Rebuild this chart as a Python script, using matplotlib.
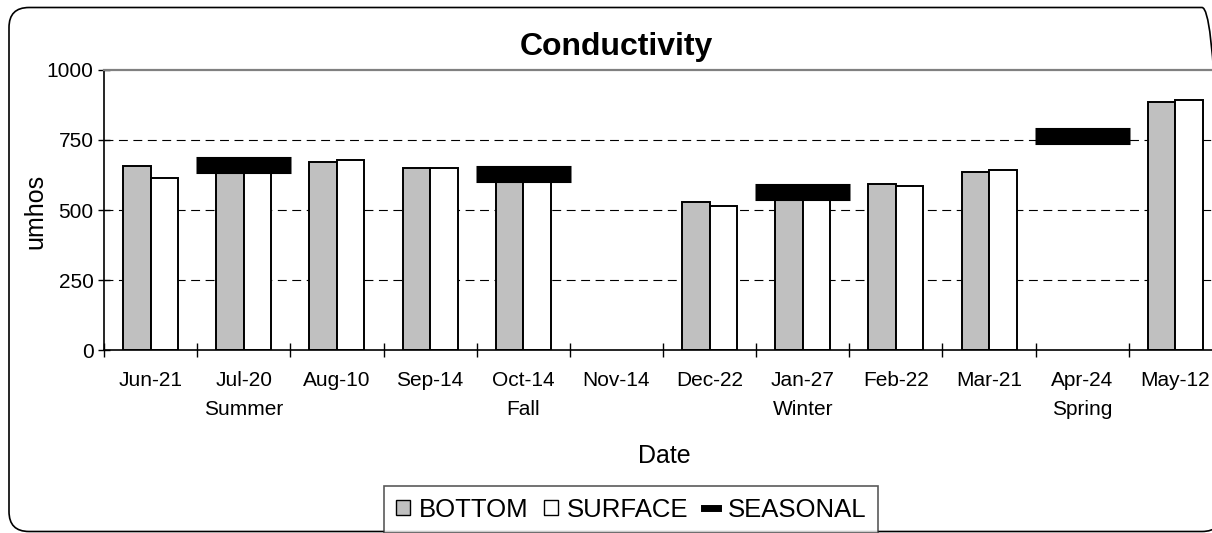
import numpy as np
import matplotlib
matplotlib.use("Agg")
import matplotlib.pyplot as plt
from matplotlib.patches import FancyBboxPatch, Patch
from matplotlib.lines import Line2D
from matplotlib.transforms import IdentityTransform

plt.rcParams["font.family"] = ["Liberation Sans", "DejaVu Sans"]

#  Sampling dates and the season each seasonal mean belongs to
dates = ["Jun-21", "Jul-20", "Aug-10", "Sep-14", "Oct-14", "Nov-14",
         "Dec-22", "Jan-27", "Feb-22", "Mar-21", "Apr-24", "May-12"]
seasons = ["", "Summer", "", "", "Fall", "", "", "Winter", "", "", "Spring", ""]

#  Conductivity, umhos (nan = no sample)
bottom = [658, 655, 670, 650, 625, np.nan, 530, 560, 594, 636, np.nan, 886]
surface = [614, 650, 679, 650, 620, np.nan, 514, 555, 586, 643, np.nan, 894]
seasonal = [np.nan, 659, np.nan, np.nan, 630, np.nan, np.nan, 566, np.nan, np.nan, 766, np.nan]

y_ticks = [0, 250, 500, 750, 1000]

W, H = 1212, 533
fig = plt.figure(figsize=(W / 100, H / 100), dpi=100)
fig.patch.set_facecolor("white")

#  Rounded chart-area border, in pixels (runs off the right edge)
frame = FancyBboxPatch((9, 1.5), 1213, 524, boxstyle="round,pad=0,rounding_size=20",
                       transform=IdentityTransform(), fill=False, ec="black", lw=1.2)
fig.add_artist(frame)

#  Plot area runs a little past the right edge, like the original
ax = fig.add_axes([104 / W, 183 / H, 1118 / W, 280 / H])

x = np.arange(len(dates)) + 0.5
bw = 0.295

b = np.array(bottom, dtype=float)
s = np.array(surface, dtype=float)
m = ~np.isnan(b)
ax.bar(x[m] - bw / 2, b[m], bw, color="#c0c0c0", edgecolor="black", lw=1.4, zorder=2)
ax.bar(x[m] + bw / 2, s[m], bw, color="white", edgecolor="black", lw=1.4, zorder=2)

sv = np.array(seasonal, dtype=float)
ms = ~np.isnan(sv)
ax.hlines(sv[ms], x[ms] - 0.51, x[ms] + 0.51, colors="black", lw=12.3, zorder=3,
          capstyle="butt")

ax.set_xlim(0, len(dates))
ax.set_ylim(0, 1000)

#  Category boundaries get the tick marks, centres get the labels
ax.set_xticks(np.arange(len(dates) + 1))
ax.set_xticklabels([])
ax.set_xticks(x, minor=True)
ax.set_xticklabels([d if not se else d + "\n" + se for d, se in zip(dates, seasons)],
                   minor=True, fontsize=15, linespacing=1.7)
ax.tick_params(axis="x", which="major", direction="inout", length=10, width=1)
ax.tick_params(axis="x", which="minor", length=0, pad=15)

ax.set_yticks(y_ticks)
ax.set_yticklabels([str(v) for v in y_ticks], fontsize=15)
ax.tick_params(axis="y", direction="inout", length=9, width=1, pad=3)

ax.yaxis.grid(True, linestyle=(0, (8, 5)), color="black", lw=0.8)
gl = ax.get_ygridlines()
gl[0].set_visible(False)
gl[-1].set_visible(False)
ax.set_axisbelow(True)

for side in ["top", "right"]:
  ax.spines[side].set_color("#808080")
  ax.spines[side].set_linewidth(1.6)
for side in ["left", "bottom"]:
  ax.spines[side].set_color("black")
  ax.spines[side].set_linewidth(1.2)

fig.text(616 / W, 1 - 55 / H, "Conductivity", ha="center", va="baseline",
         fontsize=23, fontweight="bold")
fig.text(664 / W, 1 - 463 / H, "Date", ha="center", va="baseline", fontsize=18)
fig.text(42 / W, 1 - 211 / H, "umhos", ha="center", va="baseline", rotation=90,
         rotation_mode="anchor", fontsize=18)

handles = [
  Patch(facecolor="#c0c0c0", edgecolor="black", lw=1),
  Patch(facecolor="white", edgecolor="black", lw=1),
  Line2D([], [], color="black", lw=5),
]
leg = fig.legend(handles, ["BOTTOM", "SURFACE", "SEASONAL"], loc="upper center",
                 bbox_to_anchor=(631 / W, 1 - 486 / H), ncol=3, frameon=True,
                 fancybox=False, edgecolor="#303030", fontsize=18.5,
                 handlelength=0.55, handleheight=0.55, handletextpad=0.35,
                 columnspacing=0.6, borderpad=0.45, borderaxespad=0)
leg.get_frame().set_linewidth(1.2)

fig.savefig("out.png", dpi=100)
